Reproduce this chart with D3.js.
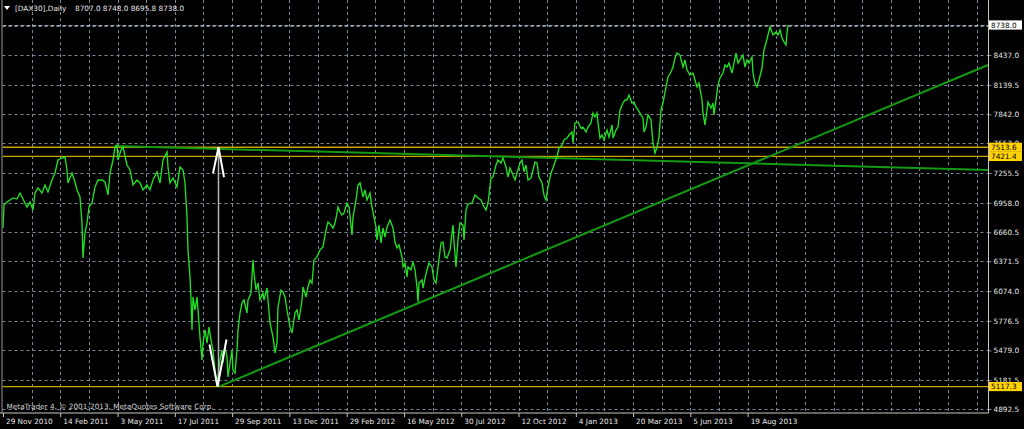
<!DOCTYPE html>
<html><head><meta charset="utf-8">
<script src="https://cdn.jsdelivr.net/npm/d3@7"></script>
<style>html,body{margin:0;padding:0;background:#000;overflow:hidden}</style>
</head><body><svg id="c" width="1024" height="429"></svg>
<script>
// ---- data (bar index, daily close) ----
const bars = [0,1,4,7,10,14,17,20,24,27,30,32,35,39,42,45,49,52,55,59,62,64,65,69,72,74,77,79,80,82,84,86,89,92,95,99,102,105,107,110,112,114,115,118,120,124,127,130,134,137,140,144,147,150,154,157,160,164,165,167,170,174,177,180,182,184,185,187,188,189,190,192,194,195,197,199,200,202,204,206,208,210,212,214,215,217,219,220,222,224,225,227,229,230,232,234,235,237,239,241,244,245,248,250,251,253,255,257,260,261,264,265,267,270,272,274,275,278,280,282,284,287,289,292,294,296,299,300,303,305,307,309,311,314,317,320,323,325,328,330,332,334,335,337,339,341,344,346,349,350,353,355,357,360,362,364,367,369,370,373,374,376,378,380,382,384,387,390,392,394,396,399,400,402,404,405,408,410,412,414,415,416,419,420,422,424,426,429,431,433,435,438,440,442,444,447,450,451,453,455,457,460,461,463,465,469,472,475,478,480,483,485,488,490,493,495,498,500,503,505,507,510,512,514,517,519,521,523,525,528,530,532,534,536,539,541,543,545,548,550,552,554,556,559,561,564,566,569,570,572,575,578,580,583,585,588,590,592,594,595,597,599,601,604,606,609,610,613,615,617,620,622,624,626,629,631,633,635,638,640,641,643,645,648,650,652,654,656,658,660,663,665,668,670,672,674,677,680,682,684,687,690,692,694,696,699,700,702,704,705,708,710,711,713,715,717,720,722,724,726,729,730,733,735,738,740,742,744,746,749,750,752,754,756,759,761,763,765,767,769,770,773,775,777,779,781,783,784,785];
const closes = [6705,6935,6965,6985,7006,6995,7056,6995,6915,6965,6885,7056,7106,7056,7136,7066,7186,7256,7386,7406,7416,7286,7156,7256,7166,7086,7016,6755,6405,6655,6755,6915,6955,7116,7186,7186,7166,7036,7256,7386,7516,7536,7386,7486,7516,7336,7286,7136,7186,7156,7086,7136,7086,7186,7266,7156,7386,7466,7316,7156,7206,7116,7316,7286,7156,6815,6485,6214,5984,5684,6014,5884,6014,5884,5614,5383,5553,5684,5553,5714,5583,5483,5283,5117.3,5213,5383,5483,5353,5513,5413,5213,5353,5483,5283,5253,5483,5684,5854,5954,5984,5854,5984,6054,6385,6254,6084,6154,5984,6054,5984,6104,5984,5754,5614,5453,5553,5914,6084,6064,6014,5884,5714,5654,5854,5884,5784,5984,6114,6014,6114,6184,6154,6385,6415,6485,6515,6685,6765,6735,6705,6755,6855,6915,6865,6835,6855,6955,6915,6635,6815,6985,7136,7156,7016,7086,6985,7056,6915,6865,6715,6585,6735,6555,6705,6615,6715,6785,6705,6565,6505,6535,6415,6315,6355,6214,6315,6285,6365,6285,6114,5964,6154,6184,6104,6204,6285,6355,6315,6184,6154,6315,6555,6565,6415,6405,6485,6735,6565,6315,6585,6755,6735,6585,6885,6945,6955,7036,7006,6985,6935,6885,6955,7206,7216,7336,7386,7356,7406,7316,7216,7306,7236,7186,7256,7356,7386,7266,7336,7186,7206,7286,7366,7356,7216,7156,7036,6985,7116,7256,7306,7366,7416,7506,7536,7586,7606,7636,7666,7556,7757,7767,7706,7716,7666,7716,7757,7857,7817,7857,7757,7606,7636,7586,7686,7616,7737,7606,7686,7716,7887,7957,7987,7987,8037,7957,7967,7917,7887,7837,7807,7666,7716,7837,7787,7556,7456,7516,7616,7887,7957,8117,8217,8267,8317,8407,8457,8437,8317,8387,8287,8237,8257,8187,8117,8157,7987,7857,7737,7887,7967,7907,7957,7837,7987,8137,8207,8257,8337,8317,8357,8257,8307,8457,8357,8407,8437,8317,8387,8357,8417,8257,8157,8117,8187,8307,8488,8558,8638,8718,8668,8638,8668,8638,8688,8608,8568,8538,8658,8738];
const gridPrices = [8726.0,8437.0,8139.5,7842.0,7553.0,7255.5,6958.0,6660.5,6371.5,6074.0,5776.5,5479.0,5181.5,4892.5];
const priceTickLabels = ["8437.0","8139.5","7842.0","7553.0","7255.5","6958.0","6660.5","6371.5","6074.0","5776.5","5479.0","5181.5","4892.5"];
const dateLabels = ["29 Nov 2010","14 Feb 2011","3 May 2011","17 Jul 2011","29 Sep 2011","13 Dec 2011","29 Feb 2012","16 May 2012","30 Jul 2012","12 Oct 2012","4 Jan 2013","20 Mar 2013","5 Jun 2013","19 Aug 2013"];
const levelPrices = [7513.6, 7421.4, 5117.3];
const bidPrice = 8738.0;
const headerSymbol = "[DAX30],Daily";
const headerOHLC = [8707.0, 8748.0, 8695.8, 8738.0];
const trendUp = [[216, 5117.3], [985, 8337]];
const trendFlat = [[112, 7526], [985, 7286]];
const arrowSpan = {bar: 215.5, from: 5117.3, to: 7513.6};
const copyright = "MetaTrader 4, \u00A9 2001-2013, MetaQuotes Software Corp.";

// ---- layout ----
const W = 1024, H = 429;
const L = 2.5, R = 988.5, T = 0, B = 413;
const FONT = "DejaVu Sans", FS = 7.3;
const svg = d3.select("#c");
svg.append("rect").attr("width", W).attr("height", H).attr("fill", "#000");

const x = d3.scaleLinear().domain([0, 985]).range([3, 988]);
const y = d3.scaleLinear().domain([4892.5, 8738]).range([409, 25]);
const fmt = d3.format(".1f");

svg.append("clipPath").attr("id", "plotclip").append("rect")
  .attr("x", L).attr("y", T).attr("width", R - L).attr("height", B - T);

// vertical grid (every half label interval)
const step = 28.64;
const gridBars = d3.range(1, 35).map(k => x.invert(3 + k * step));
const g = svg.append("g");
g.selectAll("line.vg").data(gridBars).join("line")
  .attr("x1", d => Math.round(x(d)) + 0.5).attr("x2", d => Math.round(x(d)) + 0.5)
  .attr("y1", T).attr("y2", B)
  .attr("stroke", "#778899").attr("stroke-width", 1).attr("stroke-dasharray", "3,3");
// horizontal grid
g.selectAll("line.hg").data(gridPrices).join("line")
  .attr("x1", L).attr("x2", R + 3)
  .attr("y1", d => Math.round(y(d)) + 0.5).attr("y2", d => Math.round(y(d)) + 0.5)
  .attr("stroke", "#778899").attr("stroke-width", 1).attr("stroke-dasharray", "3,3");

// right axis (labels)
const labelVals = priceTickLabels.map(Number);
const yAxis = d3.axisRight(y).tickValues(labelVals).tickSize(3).tickPadding(2).tickFormat(fmt);
const ya = svg.append("g").attr("transform", `translate(${R},0)`).call(yAxis);
ya.select(".domain").remove();
ya.selectAll("line").attr("stroke", "#778899");
ya.selectAll("text").attr("fill", "#e6e6e6").attr("font-family", FONT).attr("font-size", FS);

// bottom axis (date labels every two grid cells)
const dateBars = dateLabels.map((d, i) => x.invert(3 + i * 2 * step));
const xAxis = d3.axisBottom(x).tickValues(dateBars).tickSize(4).tickFormat((d, i) => dateLabels[i]);
const xa = svg.append("g").attr("transform", `translate(0,${B})`).call(xAxis);
xa.select(".domain").remove();
xa.selectAll("line").attr("stroke", "#c8c8c8");
xa.selectAll("text").attr("fill", "#e6e6e6").attr("font-family", FONT).attr("font-size", FS)
  .attr("text-anchor", "start").attr("x", 2.5).attr("y", 8).attr("dy", "0.35em");

const plot = svg.append("g").attr("clip-path", "url(#plotclip)");

// horizontal level lines
plot.selectAll("line.lvl").data(levelPrices).join("line")
  .attr("x1", L).attr("x2", R).attr("y1", d => y(d)).attr("y2", d => y(d))
  .attr("stroke", "#c9a400").attr("stroke-width", 1.3);

// trend lines
const tl = d3.line().x(d => x(d[0])).y(d => y(d[1]));
[trendFlat, trendUp].forEach(t => plot.append("path").attr("d", tl(t))
  .attr("fill", "none").attr("stroke", "#139a13").attr("stroke-width", 2));

// price line
const line = d3.line().x((d, i) => x(bars[i])).y(d => y(d));
plot.append("path").datum(closes).attr("d", line)
  .attr("fill", "none").attr("stroke", "#22e022").attr("stroke-width", 1.35).attr("stroke-linejoin", "miter");

// arrow annotation
const ax = x(arrowSpan.bar), ay1 = y(arrowSpan.from), ay2 = y(arrowSpan.to);
plot.append("line").attr("x1", ax).attr("x2", ax).attr("y1", ay1).attr("y2", ay2)
  .attr("stroke", "#b4b4b4").attr("stroke-width", 1.5);
plot.append("path").attr("d", `M${ax-5.5},${ay2+26}L${ax},${ay2}L${ax+5.5},${ay2+30}`)
  .attr("fill", "none").attr("stroke", "#fff").attr("stroke-width", 2);
plot.append("path").attr("d", `M${ax-9},${ay1-42}L${ax-1},${ay1}L${ax+8},${ay1-47}`)
  .attr("fill", "none").attr("stroke", "#fff").attr("stroke-width", 2);

// bid line
plot.append("line").attr("x1", L).attr("x2", R).attr("y1", Math.round(y(bidPrice)) + 0.5).attr("y2", Math.round(y(bidPrice)) + 0.5)
  .attr("stroke", "#9ea8b4").attr("stroke-width", 1).attr("stroke-dasharray", "4,2");

// borders
svg.append("line").attr("x1", R).attr("x2", R).attr("y1", 0).attr("y2", B).attr("stroke", "#c8c8c8");
svg.append("line").attr("x1", 0).attr("x2", R).attr("y1", B).attr("y2", B).attr("stroke", "#c8c8c8");
svg.append("line").attr("x1", L - 0.5).attr("x2", L - 0.5).attr("y1", 0).attr("y2", B).attr("stroke", "#9a9a9a");

// price label boxes
const boxes = levelPrices.map(p => ({p, fill: "#ffd200"})).concat([{p: bidPrice, fill: "#ffffff"}]);
const bx = svg.selectAll("g.box").data(boxes).join("g");
bx.append("rect").attr("x", R + 0.5).attr("y", d => y(d.p) - 4.6).attr("width", 33).attr("height", 9.2).attr("fill", d => d.fill);
bx.append("text").attr("x", R + 2.5).attr("y", d => y(d.p)).attr("dy", "0.35em")
  .attr("font-family", FONT).attr("font-size", FS).attr("fill", "#000").text(d => fmt(d.p));

// header
svg.append("path").attr("d", "M4,6L10,6L7,10Z").attr("fill", "#fff");
svg.append("text").attr("x", 15).attr("y", 8).attr("dy", "0.35em").attr("font-family", FONT).attr("font-size", FS)
  .attr("fill", "#e6e6e6").text(headerSymbol);
svg.append("text").attr("x", 75).attr("y", 8).attr("dy", "0.35em").attr("font-family", FONT).attr("font-size", FS)
  .attr("fill", "#e6e6e6").text(headerOHLC.map(fmt).join(" "));
// copyright
svg.append("text").attr("x", 6.5).attr("y", 406.5).attr("dy", "0.35em").attr("font-family", FONT).attr("font-size", FS)
  .attr("fill", "#d0d0d0").text(copyright);
</script></body></html>
